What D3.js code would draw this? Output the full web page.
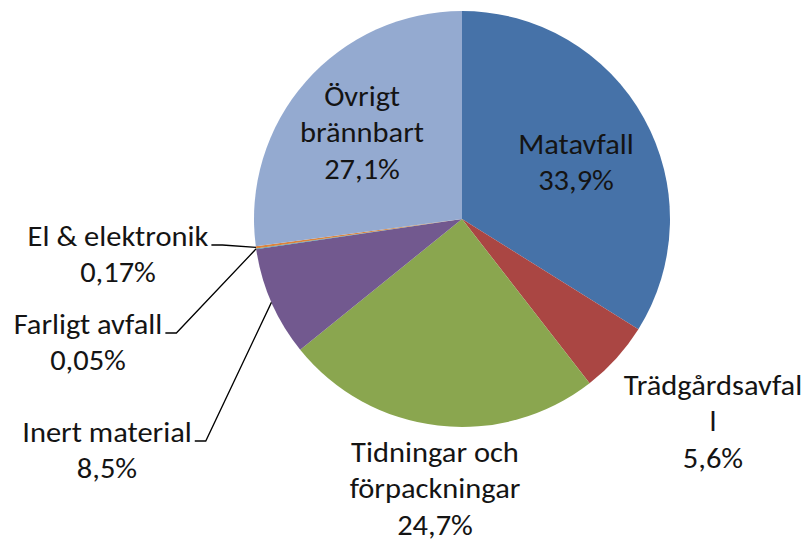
<!DOCTYPE html>
<html>
<head>
<meta charset="utf-8">
<script src="https://cdn.jsdelivr.net/npm/d3@7"></script>
<style>
  html, body { margin: 0; padding: 0; background: #ffffff; }
  svg text { font-family: Carlito, Calibri, Lato, sans-serif; font-size: 28.5px; fill: #141414; }
</style>
</head>
<body>
<svg id="chart" width="808" height="542"></svg>
<script>
// Waste composition, share of total (%)
const categories = [
  "Matavfall",
  "Trädgårdsavfall",
  "Tidningar och förpackningar",
  "Inert material",
  "Farligt avfall",
  "El & elektronik",
  "Övrigt brännbart"
];
const values = [33.9, 5.6, 24.7, 8.5, 0.05, 0.17, 27.1];
const colors = ["#4672A8", "#AA4643", "#8AA64F", "#72598F", "#4198AF", "#DB843D", "#94AAD0"];

// Wrapped name lines and label anchors (centre x, first baseline y)
const labelLines = [
  ["Matavfall"],
  ["Trädgårdsavfal", "l"],
  ["Tidningar och", "förpackningar"],
  ["Inert material"],
  ["Farligt avfall"],
  ["El & elektronik"],
  ["Övrigt", "brännbart"]
];
const labelAnchor = [
  [576, 154], [713, 395], [435, 462], [107, 442], [88, 334], [118, 246], [362, 106]
];
const hasLeader = [false, false, false, true, true, true, false];

const cx = 462, cy = 219, radius = 208, lineGap = 36.5, stretch = 1.07;

const svg = d3.select("#chart");
const g = svg.append("g").attr("transform", `translate(${cx},${cy})`);

const pie = d3.pie().sort(null).value(d => d.value);
const arc = d3.arc().innerRadius(0).outerRadius(radius);

const data = categories.map((c, i) => ({ name: c, value: values[i], i }));
const arcs = pie(data);

g.selectAll("path.slice")
  .data(arcs)
  .join("path")
  .attr("class", "slice")
  .attr("d", arc)
  .attr("fill", d => colors[d.data.i]);

const fmt = v => String(v).replace(".", ",") + "%";

const labels = svg.append("g");
arcs.forEach(a => {
  const i = a.data.i;
  const [x, y] = labelAnchor[i];
  const lines = labelLines[i].concat([fmt(a.data.value)]);
  const t = labels.append("text")
    .attr("text-anchor", "middle")
    .attr("transform", `translate(${x},${y}) scale(${stretch},1)`);
  lines.forEach((ln, k) => {
    t.append("tspan").attr("x", 0).attr("dy", k === 0 ? 0 : lineGap).text(ln);
  });

  if (hasLeader[i]) {
    const first = t.select("tspan").node();
    const w = first.getComputedTextLength() * stretch;
    const x0 = x + w / 2 + 3;
    const y0 = y - 1;
    const mid = (a.startAngle + a.endAngle) / 2;
    const px = cx + radius * Math.sin(mid);
    const py = cy - radius * Math.cos(mid);
    svg.append("polyline")
      .attr("points", `${x0},${y0} ${x0 + 11},${y0} ${px},${py}`)
      .attr("fill", "none")
      .attr("stroke", "#000")
      .attr("stroke-width", 1.3);
  }
});
</script>
</body>
</html>
